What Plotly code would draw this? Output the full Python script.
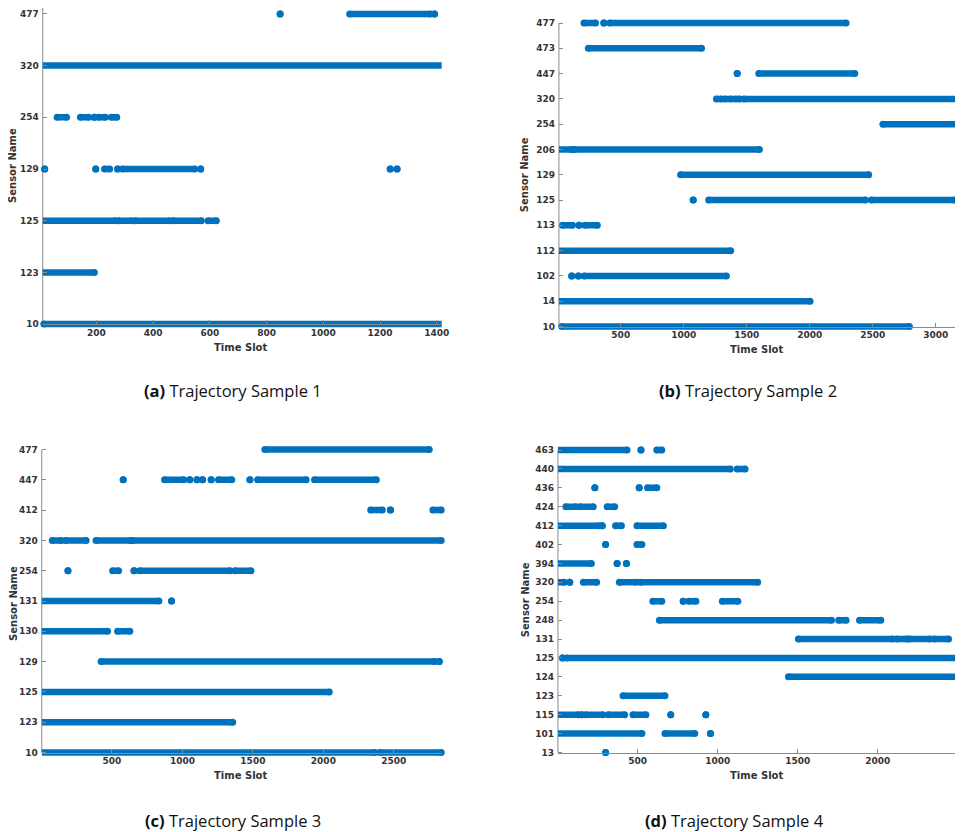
import plotly.graph_objects as go

# ---------------- data ----------------
# each run is (first time slot, last time slot); a single dot has first == last
A_SENSORS = ["10", "123", "125", "129", "254", "320", "477"]
A_RUNS = [
    [(15, 1418)],
    [(1, 193)],
    [(1, 267), (278, 325), (337, 459), (471, 570), (594, 623)],
    [(18, 18), (198, 198), (229, 247), (275, 275), (292, 547), (568, 568), (1236, 1236), (1260, 1260)],
    [(62, 95), (144, 173), (193, 193), (208, 232), (253, 272)],
    [(3, 1418)],
    [(848, 848), (1093, 1377), (1392, 1392)],
]
A_XTICKS = [200, 400, 600, 800, 1000, 1200, 1400]

B_SENSORS = ["10", "14", "102", "112", "113", "125", "129", "206", "254", "320", "447", "473", "477"]
B_RUNS = [
    [(32, 2790)],
    [(1, 2002)],
    [(111, 111), (164, 164), (209, 1338)],
    [(1, 1372)],
    [(38, 117), (169, 169), (216, 314)],
    [(1075, 1075), (1198, 2441), (2488, 3144)],
    [(975, 2467)],
    [(1, 111), (132, 1600)],
    [(2580, 3300)],
    [(1259, 1298), (1325, 1377), (1409, 1443), (1477, 3300)],
    [(1424, 1424), (1595, 2357)],
    [(243, 1141)],
    [(208, 300), (366, 366), (413, 2288)],
]
B_XTICKS = [500, 1000, 1500, 2000, 2500, 3000]

C_SENSORS = ["10", "123", "125", "129", "130", "131", "254", "320", "412", "447", "477"]
C_RUNS = [
    [(1, 2366), (2401, 2836)],
    [(1, 1357)],
    [(1, 2042)],
    [(423, 2789), (2822, 2822)],
    [(1, 469), (540, 627)],
    [(1, 833), (923, 923)],
    [(188, 188), (505, 547), (657, 657), (697, 1338), (1373, 1486)],
    [(77, 141), (171, 317), (387, 634), (646, 2836)],
    [(2336, 2418), (2476, 2476), (2777, 2836)],
    [(580, 580), (873, 1009), (1052, 1052), (1103, 1103), (1143, 1143), (1204, 1204),
     (1256, 1350), (1479, 1479), (1533, 1878), (1937, 2376)],
    [(1585, 2751)],
]
C_XTICKS = [500, 1000, 1500, 2000, 2500]

D_SENSORS = ["13", "101", "115", "123", "124", "125", "131", "248", "254", "320",
             "394", "402", "412", "424", "436", "440", "463"]
D_RUNS = [
    [(300, 300)],
    [(1, 527), (671, 857), (955, 955)],
    [(1, 130), (151, 151), (176, 283), (316, 419), (471, 552), (707, 707), (926, 926)],
    [(409, 671)],
    [(1442, 2600)],
    [(31, 31), (58, 2600)],
    [(1504, 2091), (2118, 2180), (2194, 2324), (2351, 2442)],
    [(636, 1711), (1756, 1802), (1886, 2019)],
    [(595, 651), (785, 785), (820, 864), (1029, 1126)],
    [(1, 41), (76, 76), (161, 244), (386, 490), (517, 1250)],
    [(1, 211), (372, 372), (430, 430)],
    [(300, 300), (496, 527)],
    [(1, 258), (279, 279), (362, 399), (496, 661)],
    [(52, 114), (140, 223), (310, 357)],
    [(233, 233), (510, 510), (562, 620)],
    [(1, 1079), (1122, 1171)],
    [(1, 434), (521, 521), (620, 651)],
]
D_XTICKS = [500, 1000, 1500, 2000]

CAPTIONS = ["Trajectory Sample 1", "Trajectory Sample 2", "Trajectory Sample 3", "Trajectory Sample 4"]
CAPTION_TAGS = ["(a)", "(b)", "(c)", "(d)"]

# ---------------- layout (pixels of the 963x832 page) ----------------
OFF = 8                      # default page margin around the figure div
W, H = 963 - OFF, 832 - OFF  # figure size so that it fills the window exactly
BLUE = "#0072BD"
AXC = "#8a8a8a"
TXT = "#333333"

# left px, right px, top row px, bottom row px, x range (page pixels)
PANELS = [
    dict(sensors=A_SENSORS, runs=A_RUNS, xt=A_XTICKS, l=43, r=445, top=8, bot=324,
         xr=[(43 - 39.8) / 0.2858, (445 - 39.8) / 0.2858], ylab=(13, 165), xlab=(242, 347), cap=(235, 390)),
    dict(sensors=B_SENSORS, runs=B_RUNS, xt=B_XTICKS, l=563, r=963, top=23, bot=326.5,
         xr=[(563 - 561.8) / 0.12696, (963 - 561.8) / 0.12696], ylab=(529, 175), xlab=(762, 349), cap=(753, 390)),
    dict(sensors=C_SENSORS, runs=C_RUNS, xt=C_XTICKS, l=42, r=445, top=449.5, bot=752.5,
         xr=[(42 - 41.7) / 0.142, (445 - 41.7) / 0.142], ylab=(13, 603), xlab=(242, 775), cap=(235, 820)),
    dict(sensors=D_SENSORS, runs=D_RUNS, xt=D_XTICKS, l=562, r=963, top=450, bot=752.5,
         xr=[(562 - 561.6) / 0.1613, (963 - 561.6) / 0.1613], ylab=(529, 600), xlab=(762, 775), cap=(740, 820)),
]

PAD = 6  # px of room above/below the outer rows so line ends are not clipped


def px_x(v):
    return (v - OFF) / W


def px_y(v):
    return 1 - (v - OFF) / H


fig = go.Figure()
layout = dict(width=W, height=H, margin=dict(l=0, r=0, t=0, b=0),
              paper_bgcolor="white", plot_bgcolor="white", showlegend=False)
shapes = []
annotations = []
tickfont = dict(family="DejaVu Sans", size=9, color=TXT, weight="bold")

for i, p in enumerate(PANELS):
    k = "" if i == 0 else str(i + 1)
    n = len(p["sensors"])
    xs, ys = [], []
    for idx, runs in enumerate(p["runs"]):
        for (s, e) in runs:
            xs += [s, e, None]
            ys += [idx, idx, None]
    fig.add_trace(go.Scatter(
        x=xs, y=ys, mode="lines+markers", xaxis="x" + k, yaxis="y" + k,
        line=dict(color=BLUE, width=6.5),
        marker=dict(color=BLUE, size=7, symbol="circle"),
        cliponaxis=False, hoverinfo="skip"))
    step = (p["bot"] - p["top"]) / (n - 1)
    padu = PAD / step
    layout["xaxis" + k] = dict(
        domain=[max(0, px_x(p["l"])), min(1, px_x(p["r"]))], range=p["xr"], anchor="free",
        position=px_y(p["bot"]), showline=True, linecolor=AXC, linewidth=1,
        ticks="inside", ticklen=4, tickcolor=AXC, tickvals=p["xt"],
        ticktext=[str(t) for t in p["xt"]], tickfont=tickfont, showgrid=False,
        zeroline=False, fixedrange=True)
    layout["yaxis" + k] = dict(
        domain=[max(0, px_y(p["bot"] + PAD)), min(1, px_y(p["top"] - PAD))],
        range=[-padu, n - 1 + padu],
        anchor="x" + k, showline=False, ticks="inside", ticklen=4, tickcolor=AXC,
        ticklabelstandoff=3,
        tickvals=list(range(n)), ticktext=p["sensors"], tickfont=tickfont,
        showgrid=False, zeroline=False, fixedrange=True)
    shapes.append(dict(type="line", xref="paper", yref="paper",
                       x0=px_x(p["l"]), x1=px_x(p["l"]), y0=px_y(p["top"]), y1=px_y(p["bot"]),
                       line=dict(color=AXC, width=1), layer="below"))
    annotations.append(dict(text="<b>Sensor Name</b>", xref="paper", yref="paper",
                            x=px_x(p["ylab"][0]), y=px_y(p["ylab"][1]), textangle=-90,
                            showarrow=False, xanchor="center", yanchor="middle",
                            font=dict(family="DejaVu Sans", size=10, color=TXT)))
    annotations.append(dict(text="<b>Time Slot</b>", xref="paper", yref="paper",
                            x=px_x(p["xlab"][0]), y=px_y(p["xlab"][1]),
                            showarrow=False, xanchor="center", yanchor="middle",
                            font=dict(family="DejaVu Sans", size=10, color=TXT)))
    annotations.append(dict(text="<b>" + CAPTION_TAGS[i] + "</b> " + CAPTIONS[i],
                            xref="paper", yref="paper",
                            x=px_x(p["cap"][0]), y=px_y(p["cap"][1]),
                            showarrow=False, xanchor="center", yanchor="middle",
                            font=dict(family="Open Sans", size=16.5, color="#111111")))

layout["shapes"] = shapes
layout["annotations"] = annotations
fig.update_layout(**layout)
fig.write_html("out.html")
